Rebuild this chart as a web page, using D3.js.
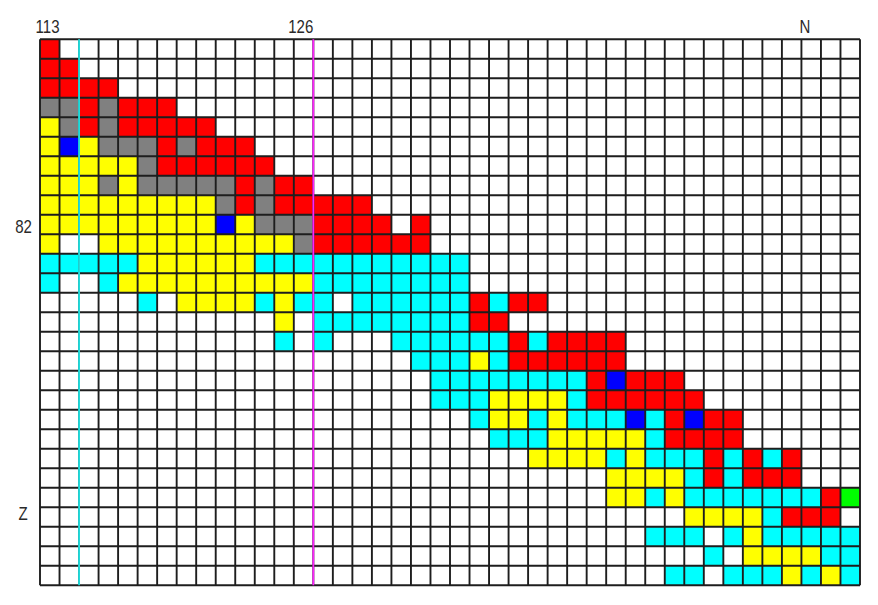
<!DOCTYPE html>
<html><head><meta charset="utf-8">
<script src="https://cdn.jsdelivr.net/npm/d3@7"></script>
<style>html,body{margin:0;padding:0;background:#fff;} svg{display:block}</style>
</head><body>
<svg id="c" width="878" height="605"></svg>
<script>
// Columns: neutron number N, rows: proton number Z (top = highest)
const nValues = [113,114,115,116,117,118,119,120,121,122,123,124,125,126,127,128,129,130,131,132,133,134,135,136,137,138,139,140,141,142,143,144,145,146,147,148,149,150,151,152,153,154];
const zValues = [91,90,89,88,87,86,85,84,83,82,81,80,79,78,77,76,75,74,73,72,71,70,69,68,67,66,65,64];

// Cell codes per row (one char per N column): R red, G gray, Y yellow, C cyan, B blue, E green, . empty
const cellRows = [
  "R",
  "RR",
  "RRRR",
  "GGRGRRR",
  "YGRGRRRRR",
  "YBYGGGRGRRR",
  "YYYYYGRRRRRR",
  "YYYGYGGGGGRGRR",
  "YYYYYYYYYGRGRRRRR",
  "YYYYYYYYYBYGGGRRRR.R",
  "Y..YYYYYYYYYYGRRRRRR",
  "CCCCCYYYYYYCCCCCCCCCCC",
  "C..CYYYYYYYYYYCCCCCCCC",
  ".....C.YYYYCYCC.CCCCCCRCRR",
  "............Y.CCCCCCCCRR",
  "............C.C...CCCCCCRCRRRR",
  "...................CCCYCRRRRRR",
  "....................CCCCCCCCRBRRR",
  "....................CCCYYYYCRRRRRR",
  "......................CYYCYCCCBCRBRR",
  ".......................CCCYYYYYCRRRR",
  ".........................YYYYCYCCCRCRCR",
  ".............................YYYYCRCRRR",
  ".............................YYCYCCCCCCCRE",
  ".................................YYYYCRRR.",
  "...............................CCC.CYCCCCC",
  "..................................C.YYYYCC",
  "................................CC.CCCYCYC"
];
const cellColors = {R:"#ff0000", G:"#808080", Y:"#ffff00", C:"#00ffff", B:"#0000ff", E:"#00ff00"};

const topTicks = [{n:113, label:"113"}, {n:126, label:"126"}];
const leftTicks = [{z:82, label:"82"}];
const xTitle = {n:152, label:"N"};
const yTitle = {z:67, label:"Z"};
const markerLines = [{n:115, color:"#22ffff", w:1.6}, {n:127, color:"#ff22ff", w:1.8}];

const svg = d3.select("#c");
const x = d3.scaleBand().domain(nValues).range([40, 860]);
const y = d3.scaleBand().domain(zValues).range([39.3, 585.3]);
const bw = x.bandwidth(), bh = y.bandwidth();

const cells = [];
cellRows.forEach((row, ri) => {
  row.split("").forEach((ch, ci) => {
    if (cellColors[ch]) cells.push({n: nValues[ci], z: zValues[ri], code: ch});
  });
});

svg.append("g").selectAll("rect").data(cells).join("rect")
  .attr("x", d => x(d.n)).attr("y", d => y(d.z))
  .attr("width", bw).attr("height", bh)
  .attr("fill", d => cellColors[d.code]);

const grid = svg.append("g").attr("stroke", "#1e1e1e").attr("stroke-width", 1.9);
const xEdges = nValues.map(n => x(n)).concat([x(nValues[nValues.length-1]) + bw]);
const yEdges = zValues.map(z => y(z)).concat([y(zValues[zValues.length-1]) + bh]);
grid.selectAll("line.v").data(xEdges).join("line").attr("class","v")
  .attr("x1", d => d).attr("x2", d => d).attr("y1", yEdges[0]).attr("y2", yEdges[yEdges.length-1]);
grid.selectAll("line.h").data(yEdges).join("line").attr("class","h")
  .attr("y1", d => d).attr("y2", d => d).attr("x1", xEdges[0]).attr("x2", xEdges[xEdges.length-1]);

svg.append("g").selectAll("line").data(markerLines).join("line")
  .attr("x1", d => x(d.n)).attr("x2", d => x(d.n))
  .attr("y1", yEdges[0]).attr("y2", yEdges[yEdges.length-1])
  .attr("stroke", d => d.color).attr("stroke-width", d => d.w);

const font = "'Liberation Sans', Arial, sans-serif";
function label(g, tx, ty, text, anchor) {
  g.append("text").attr("transform", `translate(${tx},${ty}) scale(0.86,1)`)
    .attr("text-anchor", anchor).attr("font-family", font).attr("font-size", 17.5)
    .attr("fill", "#2a2a2a").text(text);
}
const tg = svg.append("g");
topTicks.forEach(t => label(tg, x(t.n) + bw, 32.5, t.label, "end"));
label(tg, x(xTitle.n) + 3.5, 33.3, xTitle.label, "middle");
leftTicks.forEach(t => label(tg, 23.5, y(t.z) + bh - 1.5, t.label, "middle"));
label(tg, 23, y(yTitle.z) + 13, yTitle.label, "middle");
</script>
</body></html>
